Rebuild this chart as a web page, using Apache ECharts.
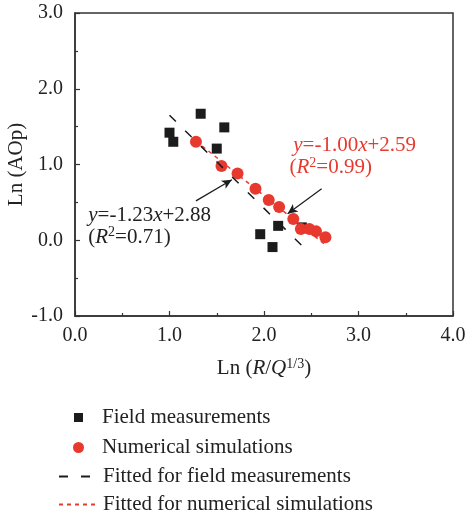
<!DOCTYPE html>
<html>
<head>
<meta charset="utf-8">
<script src="https://cdn.jsdelivr.net/npm/echarts@6/dist/echarts.min.js"></script>
<style>
  html, body { margin: 0; padding: 0; background: #fff; }
  #chart { width: 466px; height: 516px; }
</style>
</head>
<body>
<div id="chart"></div>
<script>
const FONT = 'Liberation Serif';

// Field measurements: [Ln(R/Q^1/3), Ln(AOp)]
const fieldData = [
  [1.00, 1.42], [1.04, 1.30], [1.33, 1.67], [1.50, 1.21], [1.58, 1.49],
  [1.96, 0.08], [2.09, -0.09], [2.15, 0.19], [2.40, 0.17]
];
// Numerical simulations
const simData = [
  [1.28, 1.30], [1.55, 0.98], [1.72, 0.88], [1.91, 0.68], [2.05, 0.53],
  [2.16, 0.44], [2.31, 0.28], [2.39, 0.15], [2.48, 0.15], [2.55, 0.12], [2.65, 0.04]
];
// fitted lines, drawn between the end points of each fit
const fieldFit = [[1.00, 1.65], [2.40, -0.07]];
const simFit = [[1.28, 1.31], [2.65, -0.06]];

const xTicks = { min: 0, max: 4, interval: 1 };
const yTicks = { min: -1, max: 3, interval: 1 };

const legendNames = [
  'Field measurements',
  'Numerical simulations',
  'Fitted for field measurements',
  'Fitted for numerical simulations'
];

const RED = '#e8392f';
const BLACK = '#1c1c1c';

const chart = echarts.init(document.getElementById('chart'));

const axisCommon = {
  type: 'value',
  splitLine: { show: false },
  axisLine: { show: true, onZero: false, lineStyle: { color: '#333', width: 1.5 } },
  axisTick: { show: true, inside: true, length: 5, lineStyle: { color: '#333', width: 1.2 } },
  minorTick: { show: true, splitNumber: 2, length: 3, lineStyle: { color: '#333', width: 1.2 } },
  axisLabel: {
    fontFamily: FONT, fontSize: 20, color: '#222',
    formatter: (v) => v.toFixed(1)
  },
  nameLocation: 'middle',
  nameMoveOverlap: false,
  nameTextStyle: { fontFamily: FONT, fontSize: 21, color: '#222' }
};

function legendItem(name, top, left, w, h, pad, hideSymbol) {
  const lg = {
    data: [name],
    orient: 'vertical',
    left: left,
    top: top,
    itemWidth: w,
    itemHeight: h,
    selectedMode: false,
    textStyle: { fontFamily: FONT, fontSize: 21, color: '#222', padding: [0, 0, 0, pad] }
  };
  if (hideSymbol) lg.itemStyle = { opacity: 0 };
  return lg;
}

chart.setOption({
  animation: false,
  grid: {
    left: 75, right: 13, top: 13, bottom: 200,
    outerBoundsMode: 'none',
    containLabel: false,
    show: true, borderColor: '#333', borderWidth: 1.5
  },
  legend: [
    legendItem(legendNames[0], 402, 69, 9, 9, 14),
    legendItem(legendNames[1], 432, 68, 11, 11, 13),
    legendItem(legendNames[2], 461, 53, 34, 14, 5, true),
    legendItem(legendNames[3], 489, 53, 37, 14, 2, true)
  ],
  xAxis: Object.assign({}, axisCommon, {
    min: xTicks.min, max: xTicks.max, interval: xTicks.interval,
    axisLabel: Object.assign({}, axisCommon.axisLabel, { margin: 10 }),
    name: 'Ln ({i|R}/{i|Q}{sup|1/3})',
    nameGap: 41,
    nameTextStyle: Object.assign({}, axisCommon.nameTextStyle, {
      rich: {
        i: { fontFamily: FONT, fontSize: 21, fontStyle: 'italic', color: '#222', lineHeight: 23 },
        sup: { fontFamily: FONT, fontSize: 14, color: '#222', verticalAlign: 'top', lineHeight: 23 }
      }
    })
  }),
  yAxis: Object.assign({}, axisCommon, {
    min: yTicks.min, max: yTicks.max, interval: yTicks.interval,
    axisLabel: Object.assign({}, axisCommon.axisLabel, { margin: 12 }),
    name: 'Ln (AOp)',
    nameGap: 48
  }),
  series: [
    {
      name: legendNames[0], type: 'scatter', data: fieldData,
      symbol: 'rect', symbolSize: 10, itemStyle: { color: BLACK, opacity: 1 }, z: 2
    },
    {
      name: legendNames[1], type: 'scatter', data: simData,
      symbol: 'circle', symbolSize: 12, itemStyle: { color: RED, opacity: 1 }, z: 3
    },
    {
      name: legendNames[3], type: 'line', data: simFit, showSymbol: false, symbol: 'none',
      lineStyle: { color: RED, width: 1.5, type: [4, 4] }, itemStyle: { color: RED }, z: 4
    },
    {
      name: legendNames[2], type: 'line', data: fieldFit, showSymbol: false, symbol: 'none',
      lineStyle: { color: BLACK, width: 1.5, type: [9, 13] }, itemStyle: { color: BLACK }, z: 5,
      markLine: {
        silent: true,
        symbol: ['none', 'arrow'],
        symbolSize: [7, 10],
        label: { show: false },
        lineStyle: { color: BLACK, width: 1.2, type: 'solid' },
        data: [
          [{ coord: [1.28, 0.52] }, { coord: [1.66, 0.80] }],
          [{ coord: [2.61, 0.68] }, { coord: [2.25, 0.35] }]
        ]
      }
    }
  ]
});

// fit annotations anchored in data coordinates
const notes = [
  { at: [2.31, 1.25], text: '{i|y}=-1.00{i|x}+2.59', color: RED },
  { at: [2.27, 0.96], text: '({i|R}{sup|2}=0.99)', color: RED },
  { at: [0.14, 0.33], text: '{i|y}=-1.23{i|x}+2.88', color: '#222' },
  { at: [0.14, 0.04], text: '({i|R}{sup|2}=0.71)', color: '#222' }
];

chart.setOption({
  graphic: notes.map((n) => {
    const p = chart.convertToPixel({ gridIndex: 0 }, n.at);
    return {
      type: 'text',
      x: p[0], y: p[1],
      silent: true,
      style: {
        text: n.text,
        fill: n.color,
        font: '21px "' + FONT + '"',
        verticalAlign: 'middle',
        rich: {
          i: { fontFamily: FONT, fontSize: 21, fontStyle: 'italic', fill: n.color, lineHeight: 23 },
          sup: { fontFamily: FONT, fontSize: 14, fill: n.color, verticalAlign: 'top', lineHeight: 23 }
        }
      }
    };
  })
});
</script>
</body>
</html>
